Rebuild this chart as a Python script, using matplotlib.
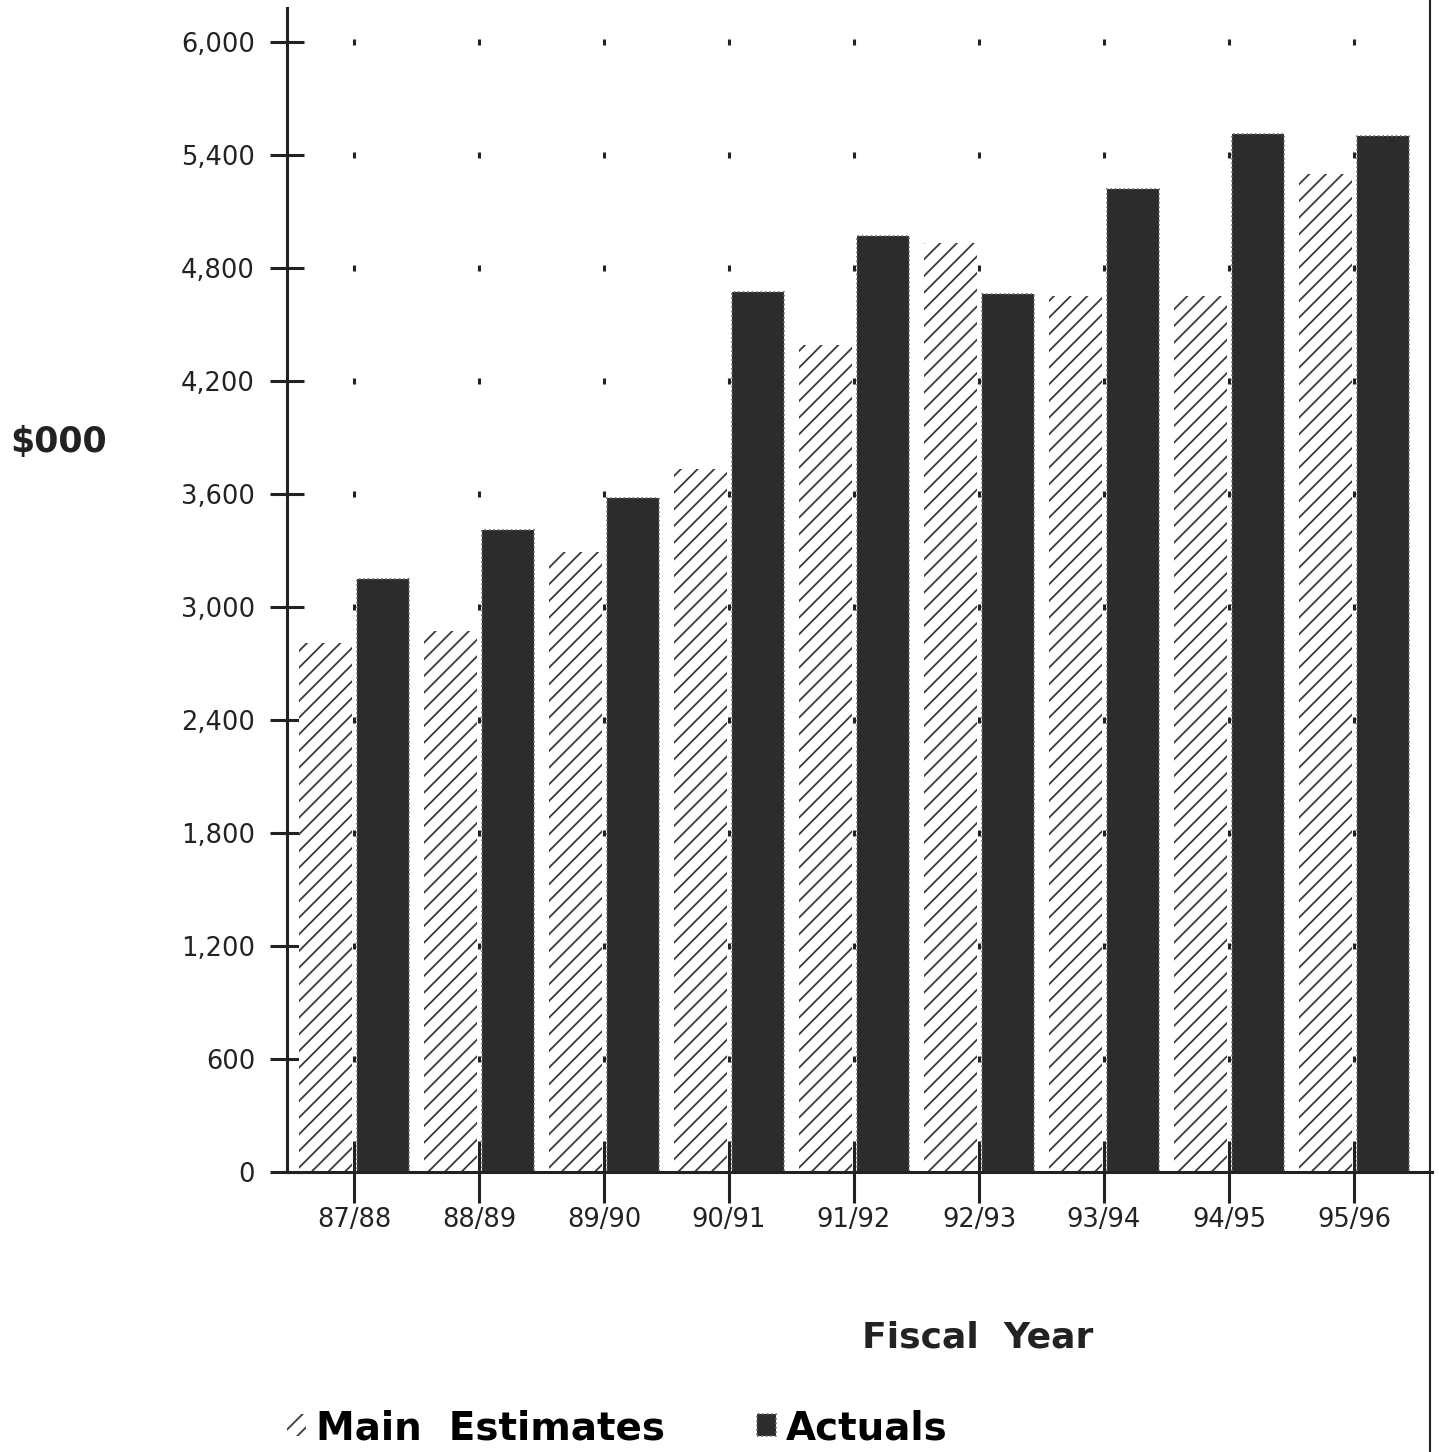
import numpy as np
import matplotlib.pyplot as plt
from matplotlib.lines import Line2D

plt.rcParams['font.family'] = ['DejaVu Sans']
plt.rcParams['hatch.linewidth'] = 1.3

# fiscal years and spending in $000
years = ['87/88', '88/89', '89/90', '90/91', '91/92', '92/93', '93/94', '94/95', '95/96']
main_estimates = [2810, 2870, 3290, 3730, 4390, 4930, 4650, 4650, 5300]
actuals = [3150, 3410, 3580, 4670, 4970, 4660, 5220, 5510, 5500]
y_ticks = [0, 600, 1200, 1800, 2400, 3000, 3600, 4200, 4800, 5400, 6000]
y_labels = ['0', '600', '1,200', '1,800', '2,400', '3,000', '3,600', '4,200', '4,800', '5,400', '6,000']

W, H = 1439, 1452
fig = plt.figure(figsize=(W / 100, H / 100), dpi=100)
ax = fig.add_axes([287 / W, 1 - 1172 / H, 1145 / W, 1164 / H])

x = np.arange(len(years))
bw = 0.42
b1 = ax.bar(x - 0.23, main_estimates, bw, facecolor='white', edgecolor='#3a3a3a',
            linewidth=0, hatch='//', zorder=2, label='Main  Estimates')
b2 = ax.bar(x + 0.23, actuals, bw, facecolor='#2c2c2c', edgecolor='#6a6a6a',
            linewidth=1.2, linestyle=':', zorder=2, label='Actuals')

# dotted grid: a small mark at every category / tick level
gx, gy = np.meshgrid(x, y_ticks[1:])
ax.plot(gx.ravel(), gy.ravel(), linestyle='none', marker='|', markersize=4.5,
        markeredgewidth=2.2, color='#222222', zorder=1)

ax.set_xlim(-0.536, 8.624)
ax.set_ylim(0, 6180)
ax.set_xticks(x)
ax.set_xticklabels(years)
ax.set_yticks(y_ticks)
ax.set_yticklabels(y_labels)

for s in ['top', 'right']:
    ax.spines[s].set_visible(False)
for s in ['left', 'bottom']:
    ax.spines[s].set_linewidth(2.2)
    ax.spines[s].set_color('#222222')
    ax.spines[s].set_zorder(3)

ax.tick_params(axis='x', direction='inout', length=44, width=2.2, pad=3,
               labelsize=18.5, colors='#222222')
ax.tick_params(axis='y', direction='inout', length=24, width=2.2, pad=11,
               labelsize=18.5, colors='#222222')

fig.text(10 / W, 1 - 442 / H, '$000', fontsize=25, fontweight='bold',
         ha='left', va='center', color='#222222')
fig.text(978 / W, 1 - 1338 / H, 'Fiscal  Year', fontsize=26, fontweight='bold',
         ha='center', va='center', color='#222222')

ax.legend(handles=[b1, b2], loc='center left', ncol=2, frameon=False,
          bbox_to_anchor=(287 / W, 1 - 1428 / H), bbox_transform=fig.transFigure,
          prop={'weight': 'bold', 'size': 28},
          handlelength=0.5, handleheight=0.5, handletextpad=0.25,
          columnspacing=2.35, borderpad=0, borderaxespad=0)

# frame line on the right edge of the page
fig.add_artist(Line2D([1430 / W, 1430 / W], [0, 1], transform=fig.transFigure,
                      color='#222222', linewidth=1.5))

fig.savefig('out.png', dpi=100, facecolor='white')
